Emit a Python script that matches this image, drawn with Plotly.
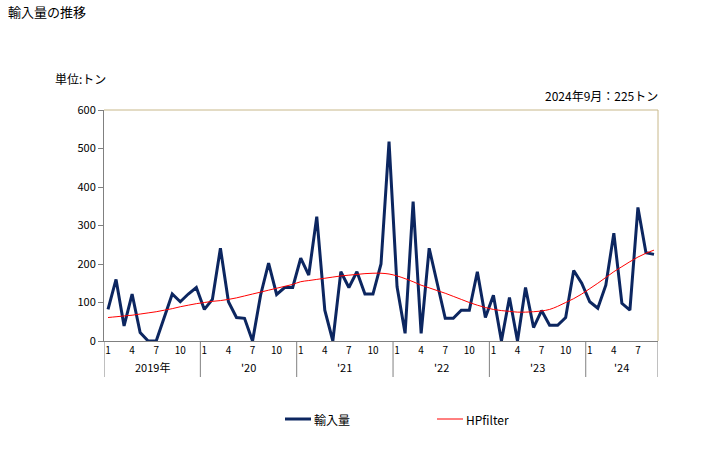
import plotly.graph_objects as go

years = ["2019年", "'20", "'21", "'22", "'23", "'24"]
month_ticks = ["1", "4", "7", "10"]

imports = [
    82, 160, 39, 122, 22, 0, 0, 61, 122, 102, 122, 139,
    82, 108, 241, 102, 61, 59, 0, 119, 202, 121, 139, 139,
    215, 171, 323, 80, 0, 180, 139, 180, 122, 122, 200, 518,
    141, 20, 362, 20, 241, 150, 59, 59, 80, 80, 180, 61,
    119, 0, 113, 0, 139, 35, 79, 41, 41, 61, 183, 150,
    102, 85, 145, 280, 98, 80, 347, 229, 225,
]
hpfilter = [
    61, 63, 65, 67, 70, 73, 76, 80, 84, 89, 93, 97,
    100, 103, 105, 108, 112, 117, 122, 127, 132, 137, 142, 147,
    154, 157, 160, 163, 166, 169, 171, 173, 175, 176, 176, 174,
    169, 162, 154, 145, 138, 131, 124, 116, 108, 100, 93, 87,
    82, 79, 77, 75, 75, 76, 78, 82, 90, 100, 110, 122,
    136, 150, 165, 180, 193, 206, 218, 228, 236,
]

n = len(imports)
xs = list(range(n))
FONT = "Noto Sans CJK JP"
NAVY = "#0c2660"
RED = "#ff0000"

# plot area in pixels
L, R, T, B = 104, 658, 110, 341
PW, PH = R - L, B - T


def px(x):
    return (x - L) / PW


def py(y):
    return (B - y) / PH


fig = go.Figure()
fig.add_trace(go.Scatter(x=xs, y=imports, mode="lines", name="輸入量",
                         line=dict(color=NAVY, width=3)))
fig.add_trace(go.Scatter(x=xs, y=hpfilter, mode="lines", name="HPfilter",
                         line=dict(color=RED, width=1, shape="spline")))

tickvals, ticktext = [], []
for i in range(n):
    m = i % 12
    if m in (0, 3, 6, 9):
        tickvals.append(i)
        ticktext.append(month_ticks[m // 3])

shapes = []
bounds = [-0.5 + 12 * k for k in range(6)] + [n - 0.5]
for b in bounds:
    shapes.append(dict(type="line", xref="x", yref="paper", x0=b, x1=b, y0=0, y1=py(377),
                       line=dict(color="#808080", width=1)))
shapes.append(dict(type="line", xref="paper", yref="paper", x0=0, x1=1, y0=1, y1=1,
                   line=dict(color="#c8b88a", width=1)))
shapes.append(dict(type="line", xref="paper", yref="paper", x0=1, x1=1, y0=0, y1=1,
                   line=dict(color="#c8b88a", width=1)))
# legend samples
shapes.append(dict(type="line", xref="paper", yref="paper", x0=px(285), x1=px(311),
                   y0=py(419), y1=py(419), line=dict(color=NAVY, width=3)))
shapes.append(dict(type="line", xref="paper", yref="paper", x0=px(437), x1=px(463),
                   y0=py(419), y1=py(419), line=dict(color=RED, width=1)))

annotations = []
for k, yl in enumerate(years):
    start = 12 * k
    end = min(12 * k + 11, n - 1)
    annotations.append(dict(x=(start + end) / 2, y=py(367), xref="x", yref="paper",
                            text=yl, showarrow=False, yanchor="middle",
                            font=dict(family=FONT, size=11, color="#000")))
annotations += [
    dict(x=px(6), y=py(12), xref="paper", yref="paper", xanchor="left", yanchor="middle",
         text="輸入量の推移", showarrow=False, font=dict(family=FONT, size=13, color="#000")),
    dict(x=px(53), y=py(78), xref="paper", yref="paper", xanchor="left", yanchor="middle",
         text="単位:トン", showarrow=False, font=dict(family=FONT, size=12, color="#000")),
    dict(x=px(660), y=py(95), xref="paper", yref="paper", xanchor="right", yanchor="middle",
         text="2024年9月：225トン", showarrow=False, font=dict(family=FONT, size=12, color="#000")),
    dict(x=px(312), y=py(419), xref="paper", yref="paper", xanchor="left", yanchor="middle",
         text="輸入量", showarrow=False, font=dict(family=FONT, size=12, color="#000")),
    dict(x=px(464), y=py(419), xref="paper", yref="paper", xanchor="left", yanchor="middle",
         text="HPfilter", showarrow=False, font=dict(family=FONT, size=12, color="#000")),
]

fig.update_layout(
    width=728, height=450,
    margin=dict(l=L, r=728 - R, t=T, b=450 - B),
    paper_bgcolor="white", plot_bgcolor="white",
    font=dict(family=FONT, size=12, color="#000"),
    showlegend=False,
    xaxis=dict(range=[-0.5, n - 0.5], tickmode="array", tickvals=tickvals, ticktext=ticktext,
               showgrid=False, zeroline=False, showline=True, linecolor="#808080",
               ticks="", tickfont=dict(family=FONT, size=10), automargin=False),
    yaxis=dict(range=[0, 600], tickmode="array", tickvals=[0, 100, 200, 300, 400, 500, 600],
               showgrid=False, zeroline=False, showline=True, linecolor="#808080",
               ticks="outside", ticklen=5, tickcolor="#808080",
               tickfont=dict(family=FONT, size=11), automargin=False),
    shapes=shapes, annotations=annotations,
)

fig.write_html("out.html")
